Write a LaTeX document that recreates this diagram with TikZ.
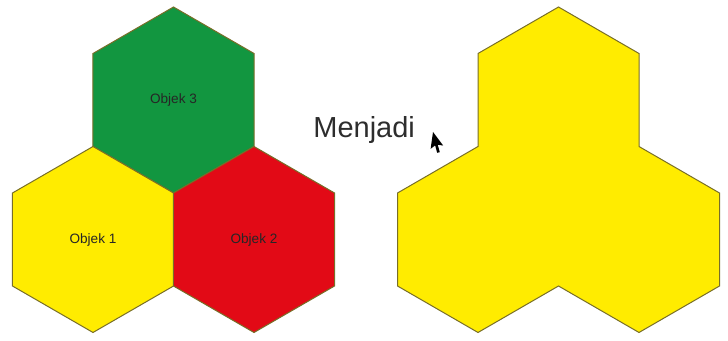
\documentclass[tikz,border=0pt]{standalone}
\usepackage{fontspec}
\setmainfont{Liberation Sans}
\usetikzlibrary{shapes.geometric,positioning}
\definecolor{hijau}{RGB}{18,150,64}
\definecolor{merah}{RGB}{226,10,22}
\definecolor{kuning}{RGB}{255,236,0}
\definecolor{tepi}{RGB}{120,110,40}
\definecolor{teks}{RGB}{45,45,45}

\begin{document}
\begin{tikzpicture}[
  x=0.5pt, y=-0.5pt,
  hexa/.style = {regular polygon, regular polygon sides=6, shape border rotate=30,
                 minimum size=93pt, inner sep=0pt, outer sep=0pt,
                 draw=tepi, line width=0.5pt, fill=#1,
                 font=\fontsize{6.8}{8}\selectfont, text=black!85},
  shapeline/.style = {draw=tepi, line width=0.5pt, line join=miter},
]
\useasboundingbox (0,0) rectangle (728,341);

% tiga objek terpisah
\node[hexa=hijau]  (objek3) at (173.5,100)   {Objek 3};
\node[hexa=kuning] (objek1) at (93,239.5)    {Objek 1};
\node[hexa=merah]  (objek2) at (254,239.5)   {Objek 2};

% teks dan kursor
\node[font=\fontsize{14.5}{17}\selectfont, text=teks, anchor=base west, inner sep=0pt]
  (menjadi) at (313,138) {Menjadi};
\coordinate (kursor) at (433,132);
\fill[black, shift={(kursor)}, rotate=-8]
  (0,0) -- (0,17) -- (4,13) -- (7,20) -- (9.5,19) -- (6.5,12) -- (12,12) -- cycle;

% hasil gabungan
\coordinate (gabung) at (558.5,100);
\begin{scope}[shift={(gabung)}]
\draw[shapeline, fill=kuning]
  (0,-93) -- (-80.5,-46.5) -- (-80.5,46.5) -- (-161,93) -- (-161,186)
  -- (-80.5,232.5) -- (0,186) -- (80.5,232.5) -- (161,186) -- (161,93)
  -- (80.5,46.5) -- (80.5,-46.5) -- cycle;
\end{scope}
\end{tikzpicture}
\end{document}
